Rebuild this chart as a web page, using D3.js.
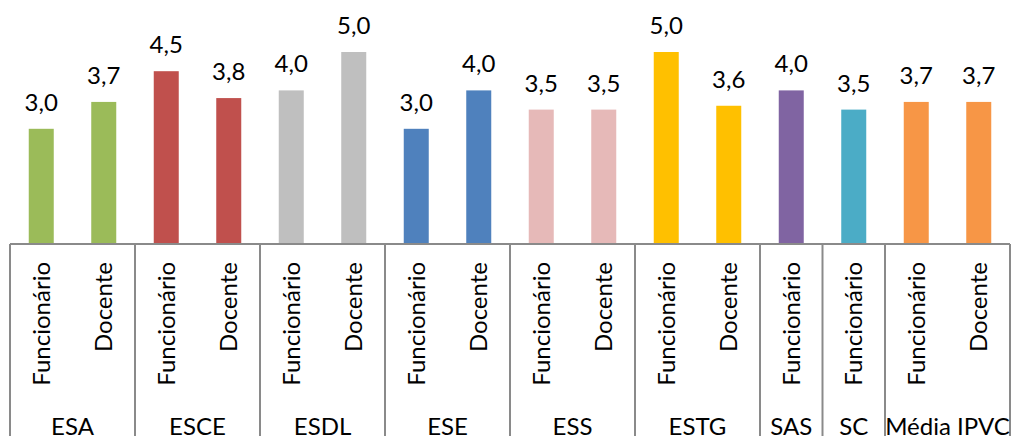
<!DOCTYPE html>
<html>
<head>
<meta charset="utf-8">
<script src="https://cdn.jsdelivr.net/npm/d3@7"></script>
<style>
  html, body { margin: 0; padding: 0; background: #fff; }
  svg { display: block; }
  text { font-family: "Lato", "Open Sans", sans-serif; fill: #000; }
</style>
</head>
<body>
<svg id="chart" width="1013" height="436"></svg>
<script>
// Escolas / serviços (top-level group labels)
const groupNames = ["ESA", "ESCE", "ESDL", "ESE", "ESS", "ESTG", "SAS", "SC", "Média IPVC"];
// Role labels (second category level)
const roleNames = ["Funcionário", "Docente"];
// Average scores per group; null where the role has no response
const funcionarioValues = [3.0, 4.5, 4.0, 3.0, 3.5, 5.0, 4.0, 3.5, 3.7];
const docenteValues     = [3.7, 3.8, 5.0, 4.0, 3.5, 3.6, null, null, 3.7];
// One colour per group
const groupColors = ["#9BBB59", "#C0504D", "#BFBFBF", "#4F81BD", "#E6B9B8", "#FFC000", "#8064A2", "#4BACC6", "#F79646"];

// Flatten into one row per bar
const bars = [];
groupNames.forEach((g, gi) => {
  [funcionarioValues[gi], docenteValues[gi]].forEach((v, ri) => {
    if (v !== null) bars.push({ key: g + "|" + roleNames[ri], group: g, gi, role: roleNames[ri], value: v });
  });
});

const svg = d3.select("#chart");
const left = 10, right = 1010, axisY = 244, topY = 52, bottom = 436;

const x = d3.scaleBand()
  .domain(bars.map(d => d.key))
  .range([left, right])
  .paddingInner(0.6)
  .paddingOuter(0.3);

const y = d3.scaleLinear().domain([0, 5]).range([axisY, topY]);

const fmt = d3.formatLocale({ decimal: ",", thousands: ".", grouping: [3], currency: ["", "€"] }).format(".1f");

// Bars
svg.append("g").selectAll("rect")
  .data(bars)
  .join("rect")
  .attr("x", d => x(d.key))
  .attr("y", d => y(d.value))
  .attr("width", x.bandwidth())
  .attr("height", d => y(0) - y(d.value))
  .attr("fill", d => groupColors[d.gi]);

// Value labels
svg.append("g").selectAll("text")
  .data(bars)
  .join("text")
  .attr("x", d => x(d.key) + x.bandwidth() / 2)
  .attr("y", d => y(d.value) - 18)
  .attr("text-anchor", "middle")
  .style("font-size", "24px")
  .text(d => fmt(d.value));

// Category axis: baseline and group separators
const axis = svg.append("g").attr("stroke", "#8A8A8A").attr("stroke-width", 2).attr("fill", "none");
axis.append("line").attr("x1", left).attr("x2", right).attr("y1", axisY).attr("y2", axisY);

const step = x.step();
const groupSpans = groupNames.map(g => {
  const members = bars.filter(b => b.group === g);
  const x0 = x(members[0].key) - step * x.paddingInner() / 2;
  const x1 = x(members[members.length - 1].key) + x.bandwidth() + step * x.paddingInner() / 2;
  return { group: g, x0, x1 };
});
const edges = [groupSpans[0].x0, ...groupSpans.map(s => s.x1)];
axis.selectAll("line.sep")
  .data(edges)
  .join("line")
  .attr("class", "sep")
  .attr("x1", d => d).attr("x2", d => d)
  .attr("y1", axisY).attr("y2", bottom);

// Role labels, rotated
svg.append("g").selectAll("text")
  .data(bars)
  .join("text")
  .attr("transform", d => `translate(${x(d.key) + x.bandwidth() / 2},262) rotate(-90)`)
  .attr("text-anchor", "end")
  .attr("dy", "0.36em")
  .style("font-size", "24px")
  .text(d => d.role);

// Group labels
svg.append("g").selectAll("text")
  .data(groupSpans)
  .join("text")
  .attr("x", d => (d.x0 + d.x1) / 2)
  .attr("y", 435)
  .attr("text-anchor", "middle")
  .style("font-size", "24px")
  .text(d => d.group);
</script>
</body>
</html>
